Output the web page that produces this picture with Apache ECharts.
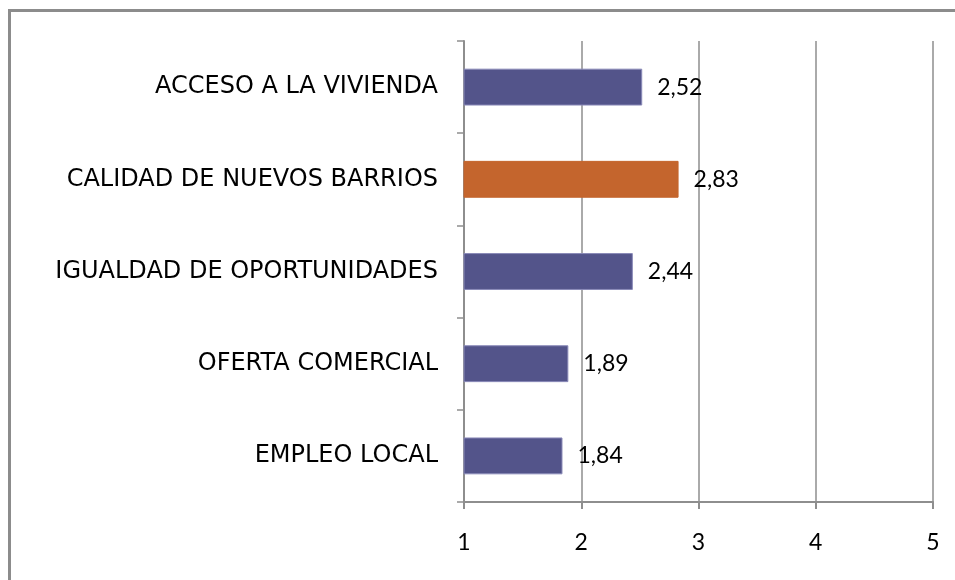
<!DOCTYPE html>
<html>
<head>
<meta charset="utf-8">
<style>
  html, body { margin: 0; padding: 0; background: #fff; }
  #chart { width: 955px; height: 580px; }
</style>
<script src="https://cdn.jsdelivr.net/npm/echarts@6/dist/echarts.min.js"></script>
</head>
<body>
<div id="chart"></div>
<script>
// Categories (top to bottom) and their scores
const categories = [
  'ACCESO A LA VIVIENDA',
  'CALIDAD DE NUEVOS BARRIOS',
  'IGUALDAD DE OPORTUNIDADES',
  'OFERTA COMERCIAL',
  'EMPLEO LOCAL'
];
const values = [2.52, 2.83, 2.44, 1.89, 1.84];
const axisTicks = [1, 2, 3, 4, 5];
const highlighted = 'CALIDAD DE NUEVOS BARRIOS';

const BLUE = '#53548A';
const ORANGE = '#C4652D';
const GRID = '#8e8e8e';
const CAT_FONT = '"DejaVu Sans", Lato, sans-serif';
const NUM_FONT = 'Lato, "Open Sans", sans-serif';

const chart = echarts.init(document.getElementById('chart'), null, { renderer: 'canvas' });

chart.setOption({
  animation: false,
  backgroundColor: '#fff',
  grid: { left: 464, right: 22, top: 41, bottom: 78, containLabel: false },
  xAxis: {
    type: 'value',
    min: axisTicks[0],
    max: axisTicks[axisTicks.length - 1],
    interval: 1,
    axisLine: { show: true, lineStyle: { color: GRID, width: 2 } },
    axisTick: { show: true, length: 7, lineStyle: { color: GRID, width: 2 } },
    splitLine: { show: true, lineStyle: { color: GRID, width: 1.5 } },
    axisLabel: {
      margin: 29, color: '#000', fontSize: 23, fontFamily: NUM_FONT,
      formatter: v => String(v)
    }
  },
  yAxis: {
    type: 'category',
    inverse: true,
    data: categories,
    axisLine: { show: true, lineStyle: { color: GRID, width: 2 } },
    axisTick: { show: true, length: 7, alignWithLabel: false, lineStyle: { color: GRID, width: 1.5 } },
    axisLabel: { margin: 26, color: '#000', fontSize: 24, fontFamily: CAT_FONT }
  },
  series: [{
    type: 'bar',
    barWidth: '40%',
    data: values.map((v, i) => ({
      value: v,
      itemStyle: {
        color: categories[i] === highlighted ? ORANGE : BLUE,
        borderColor: categories[i] === highlighted ? ORANGE : '#8a8ab8',
        borderWidth: 1
      }
    })),
    label: {
      show: true,
      position: 'right',
      distance: 15,
      color: '#000',
      fontSize: 23,
      fontFamily: NUM_FONT,
      formatter: p => p.value.toFixed(2).replace('.', ',')
    }
  }],
  graphic: [
    {
      type: 'polyline',
      shape: { points: [[9.5, 580], [9.5, 10.5], [955, 10.5]] },
      style: { stroke: '#8c8c8c', lineWidth: 3, fill: null },
      silent: true
    }
  ]
});
</script>
</body>
</html>
